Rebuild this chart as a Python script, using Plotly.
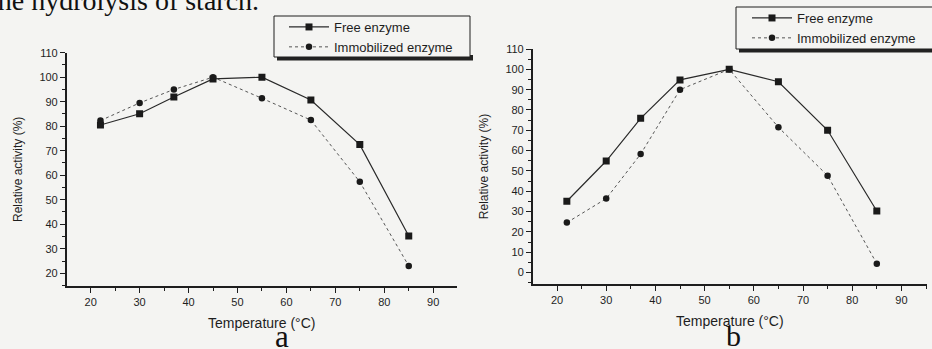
import plotly.graph_objects as go

# ---- data ----
temps = [22, 30, 37, 45, 55, 65, 75, 85]
free_a = [80.5, 85.1, 91.9, 99.3, 100.0, 90.7, 72.5, 35.2]
immob_a = [82.3, 89.5, 95.0, 100.0, 91.4, 82.5, 57.3, 23.0]
free_b = [35.1, 54.9, 75.9, 94.8, 100.0, 93.9, 70.0, 30.3]
immob_b = [24.6, 36.4, 58.3, 90.0, 100.0, 71.5, 47.7, 4.4]
series_names = ["Free enzyme", "Immobilized enzyme"]
panel_labels = ["a", "b"]

W, H = 932, 349
BG = "#f4f4f2"
INK = "#1e1e1e"
SANS = "Liberation Sans, Arial, sans-serif"
SERIF = "Liberation Serif, Times New Roman, serif"

fig = go.Figure()

def add_panel(xa, ya, free, immob, legend):
    fig.add_trace(go.Scatter(
        x=temps, y=free, name=series_names[0], mode="lines+markers",
        xaxis=xa, yaxis=ya, legend=legend,
        line=dict(color="#2a2a2a", width=1.2),
        marker=dict(symbol="square", size=7, color="#1a1a1a")))
    fig.add_trace(go.Scatter(
        x=temps, y=immob, name=series_names[1], mode="lines+markers",
        xaxis=xa, yaxis=ya, legend=legend,
        line=dict(color="#555555", width=1, dash="dot"),
        marker=dict(symbol="circle", size=6.5, color="#1a1a1a")))

add_panel("x", "y", free_a, immob_a, "legend")
add_panel("x2", "y2", free_b, immob_b, "legend2")

def xax(domain, anchor, rng):
    return dict(domain=domain, anchor=anchor, range=rng, showline=True,
                linecolor=INK, linewidth=1.5, showgrid=False, zeroline=False,
                ticks="outside", ticklen=5, tickwidth=1.2, tickcolor=INK,
                tick0=20, dtick=10,
                minor=dict(dtick=5, ticks="outside", ticklen=3, tickcolor=INK, tickwidth=1),
                tickfont=dict(family=SANS, size=11, color=INK),
                title=dict(text="Temperature (°C)", font=dict(family=SANS, size=14, color=INK),
                           standoff=11),
                automargin=False, fixedrange=True)

def yax(domain, anchor, rng, tick0):
    return dict(domain=domain, anchor=anchor, range=rng, showline=True,
                linecolor=INK, linewidth=1.5, showgrid=False, zeroline=False,
                ticks="outside", ticklen=5, tickwidth=1.2, tickcolor=INK,
                tick0=tick0, dtick=10,
                minor=dict(dtick=5, ticks="outside", ticklen=3, tickcolor=INK, tickwidth=1),
                tickfont=dict(family=SANS, size=11, color=INK),
                title=dict(text="Relative activity (%)", font=dict(family=SANS, size=12, color=INK),
                           standoff=14),
                automargin=False, fixedrange=True)

leg_common = dict(xanchor="left", yanchor="top", bgcolor="rgba(0,0,0,0)",
                  borderwidth=0, itemwidth=40,
                  font=dict(family=SANS, size=13, color=INK), tracegroupgap=0)

fig.update_layout(
    width=W, height=H,
    margin=dict(l=0, r=0, t=0, b=0),
    paper_bgcolor=BG, plot_bgcolor=BG,
    xaxis=xax([66.7 / W, 456.7 / W], "y", [15.1, 94.8]),
    yaxis=yax([1 - 286 / H, 1 - 52.7 / H], "x", [14.8, 110], 20),
    xaxis2=xax([532.7 / W, 927 / W], "y2", [15.06, 95.2]),
    yaxis2=yax([1 - 284 / H, 1 - 49 / H], "x2", [-5.6, 110], 0),
    legend=dict(x=284 / W, y=1 - 12 / H, **leg_common),
    legend2=dict(x=747 / W, y=1 - 3 / H, **leg_common),
    showlegend=True,
)

# legend frames with drop shadow
for (x0, x1, y0, y1) in [(274, 470, 16, 57), (736, 933, 7, 49)]:
    fig.add_shape(type="rect", xref="paper", yref="paper", layer="above",
                  x0=(x0 + 3) / W, x1=(x1 + 3) / W, y0=1 - (y1 + 3.5) / H, y1=1 - (y1 - 2) / H,
                  fillcolor="#222", line=dict(width=0))
    fig.add_shape(type="rect", xref="paper", yref="paper", layer="above",
                  x0=x0 / W, x1=x1 / W, y0=1 - y1 / H, y1=1 - y0 / H,
                  fillcolor=BG, line=dict(color=INK, width=1))

# panel labels
fig.add_annotation(text=panel_labels[0], x=282 / W, y=1 - 356 / H, xref="paper", yref="paper",
                   xanchor="center", yanchor="bottom",
                   showarrow=False, font=dict(family=SERIF, size=31, color="#111"))
fig.add_annotation(text=panel_labels[1], x=733 / W, y=1 - 354 / H, xref="paper", yref="paper",
                   xanchor="center", yanchor="bottom",
                   showarrow=False, font=dict(family=SERIF, size=30, color="#111"))

# running text of the page, cut at the top
fig.add_annotation(text="the hydrolysis of starch.", x=261 / W, y=1 - 0 / H,
                   xref="paper", yref="paper", xanchor="right", yanchor="middle",
                   showarrow=False, font=dict(family=SERIF, size=28, color="#111"))

fig.write_html("out.html", config={"displayModeBar": False},
               post_script="document.body.style.margin='0';")
